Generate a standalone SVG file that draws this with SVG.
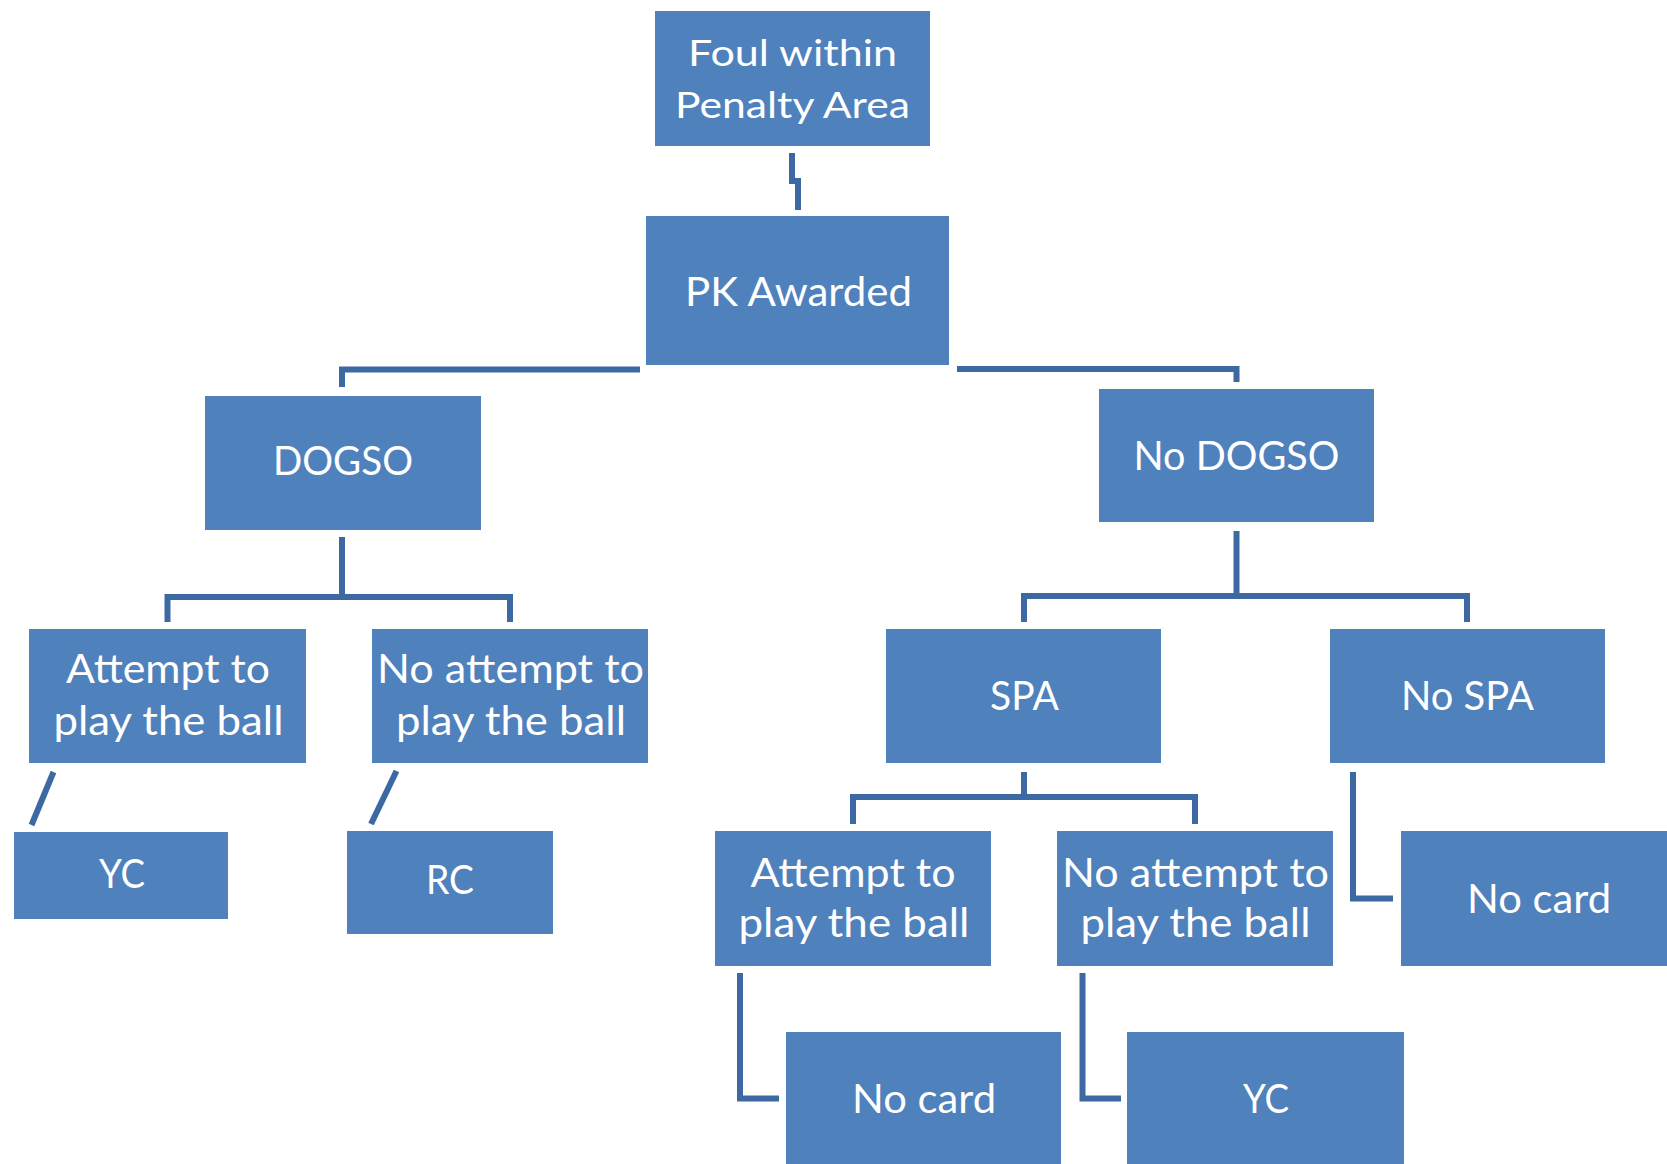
<svg xmlns="http://www.w3.org/2000/svg" width="1667" height="1164" viewBox="0 0 1667 1164">
<style>
.box{fill:#4F81BD}
.lbl{font-family:Lato,"Open Sans","Liberation Sans",sans-serif;font-size:40px;fill:#FFFFFF;text-anchor:middle}
.sm{font-size:36px}
.con{fill:none;stroke:#3D69A3;stroke-width:6;stroke-linecap:butt;stroke-linejoin:miter}
</style>
<rect x="0" y="0" width="1667" height="1164" fill="#FFFFFF"/>
<g id="connectors">
<path class="con" d="M792 153 V181 H798 V210"/>
<path class="con" d="M640 369.5 H342 V387"/>
<path class="con" d="M957 369 H1236.5 V382"/>
<path class="con" d="M342 537 V597"/>
<path class="con" d="M167.5 622 V597 H510 V622"/>
<path class="con" d="M53.5 772 L31.5 825"/>
<path class="con" d="M396.5 771 L371 824"/>
<path class="con" d="M1236.5 531 V596"/>
<path class="con" d="M1024 622 V596 H1467 V622"/>
<path class="con" d="M1024 772 V797"/>
<path class="con" d="M853 824 V797 H1195 V824"/>
<path class="con" d="M1353 772 V898.5 H1393"/>
<path class="con" d="M740 973 V1098.5 H779"/>
<path class="con" d="M1082.5 973 V1098.5 H1121"/>
</g>
<g id="foul">
<rect class="box" x="655" y="11" width="275" height="135"/>
<text class="lbl sm" x="792.5" y="66" textLength="209" lengthAdjust="spacingAndGlyphs">Foul within</text>
<text class="lbl sm" x="792.5" y="118" textLength="235" lengthAdjust="spacingAndGlyphs">Penalty Area</text>
</g>
<g id="pk">
<rect class="box" x="646" y="216" width="303" height="149"/>
<text class="lbl" x="798.5" y="306" textLength="227" lengthAdjust="spacingAndGlyphs">PK Awarded</text>
</g>
<g id="dogso">
<rect class="box" x="205" y="396" width="276" height="134"/>
<text class="lbl" x="343" y="475" textLength="140" lengthAdjust="spacingAndGlyphs">DOGSO</text>
</g>
<g id="nodogso">
<rect class="box" x="1099" y="389" width="275" height="133"/>
<text class="lbl" x="1236.5" y="470" textLength="206" lengthAdjust="spacingAndGlyphs">No DOGSO</text>
</g>
<g id="attempt-left">
<rect class="box" x="29" y="629" width="277" height="134"/>
<text class="lbl" x="168" y="683" textLength="204" lengthAdjust="spacingAndGlyphs">Attempt to</text>
<text class="lbl" x="168.5" y="735" textLength="230" lengthAdjust="spacingAndGlyphs">play the ball</text>
</g>
<g id="noattempt-left">
<rect class="box" x="372" y="629" width="276" height="134"/>
<text class="lbl" x="510.5" y="683" textLength="267" lengthAdjust="spacingAndGlyphs">No attempt to</text>
<text class="lbl" x="511" y="735" textLength="230" lengthAdjust="spacingAndGlyphs">play the ball</text>
</g>
<g id="yc-left">
<rect class="box" x="14" y="832" width="214" height="87"/>
<text class="lbl" x="122" y="888" textLength="46" lengthAdjust="spacingAndGlyphs">YC</text>
</g>
<g id="rc">
<rect class="box" x="347" y="831" width="206" height="103"/>
<text class="lbl" x="450" y="894" textLength="48" lengthAdjust="spacingAndGlyphs">RC</text>
</g>
<g id="spa">
<rect class="box" x="886" y="629" width="275" height="134"/>
<text class="lbl" x="1024.5" y="710" textLength="69" lengthAdjust="spacingAndGlyphs">SPA</text>
</g>
<g id="nospa">
<rect class="box" x="1330" y="629" width="275" height="134"/>
<text class="lbl" x="1467.5" y="710" textLength="133" lengthAdjust="spacingAndGlyphs">No SPA</text>
</g>
<g id="attempt-right">
<rect class="box" x="715" y="831" width="276" height="135"/>
<text class="lbl" x="853" y="887" textLength="205" lengthAdjust="spacingAndGlyphs">Attempt to</text>
<text class="lbl" x="854" y="937" textLength="231" lengthAdjust="spacingAndGlyphs">play the ball</text>
</g>
<g id="noattempt-right">
<rect class="box" x="1057" y="831" width="276" height="135"/>
<text class="lbl" x="1195.5" y="887" textLength="267" lengthAdjust="spacingAndGlyphs">No attempt to</text>
<text class="lbl" x="1195.5" y="937" textLength="230" lengthAdjust="spacingAndGlyphs">play the ball</text>
</g>
<g id="nocard-right">
<rect class="box" x="1401" y="831" width="266" height="135"/>
<text class="lbl" x="1539" y="913" textLength="144" lengthAdjust="spacingAndGlyphs">No card</text>
</g>
<g id="nocard-bottom">
<rect class="box" x="786" y="1032" width="275" height="132"/>
<text class="lbl" x="924" y="1113" textLength="144" lengthAdjust="spacingAndGlyphs">No card</text>
</g>
<g id="yc-bottom">
<rect class="box" x="1127" y="1032" width="277" height="132"/>
<text class="lbl" x="1266" y="1113" textLength="46" lengthAdjust="spacingAndGlyphs">YC</text>
</g>
</svg>
